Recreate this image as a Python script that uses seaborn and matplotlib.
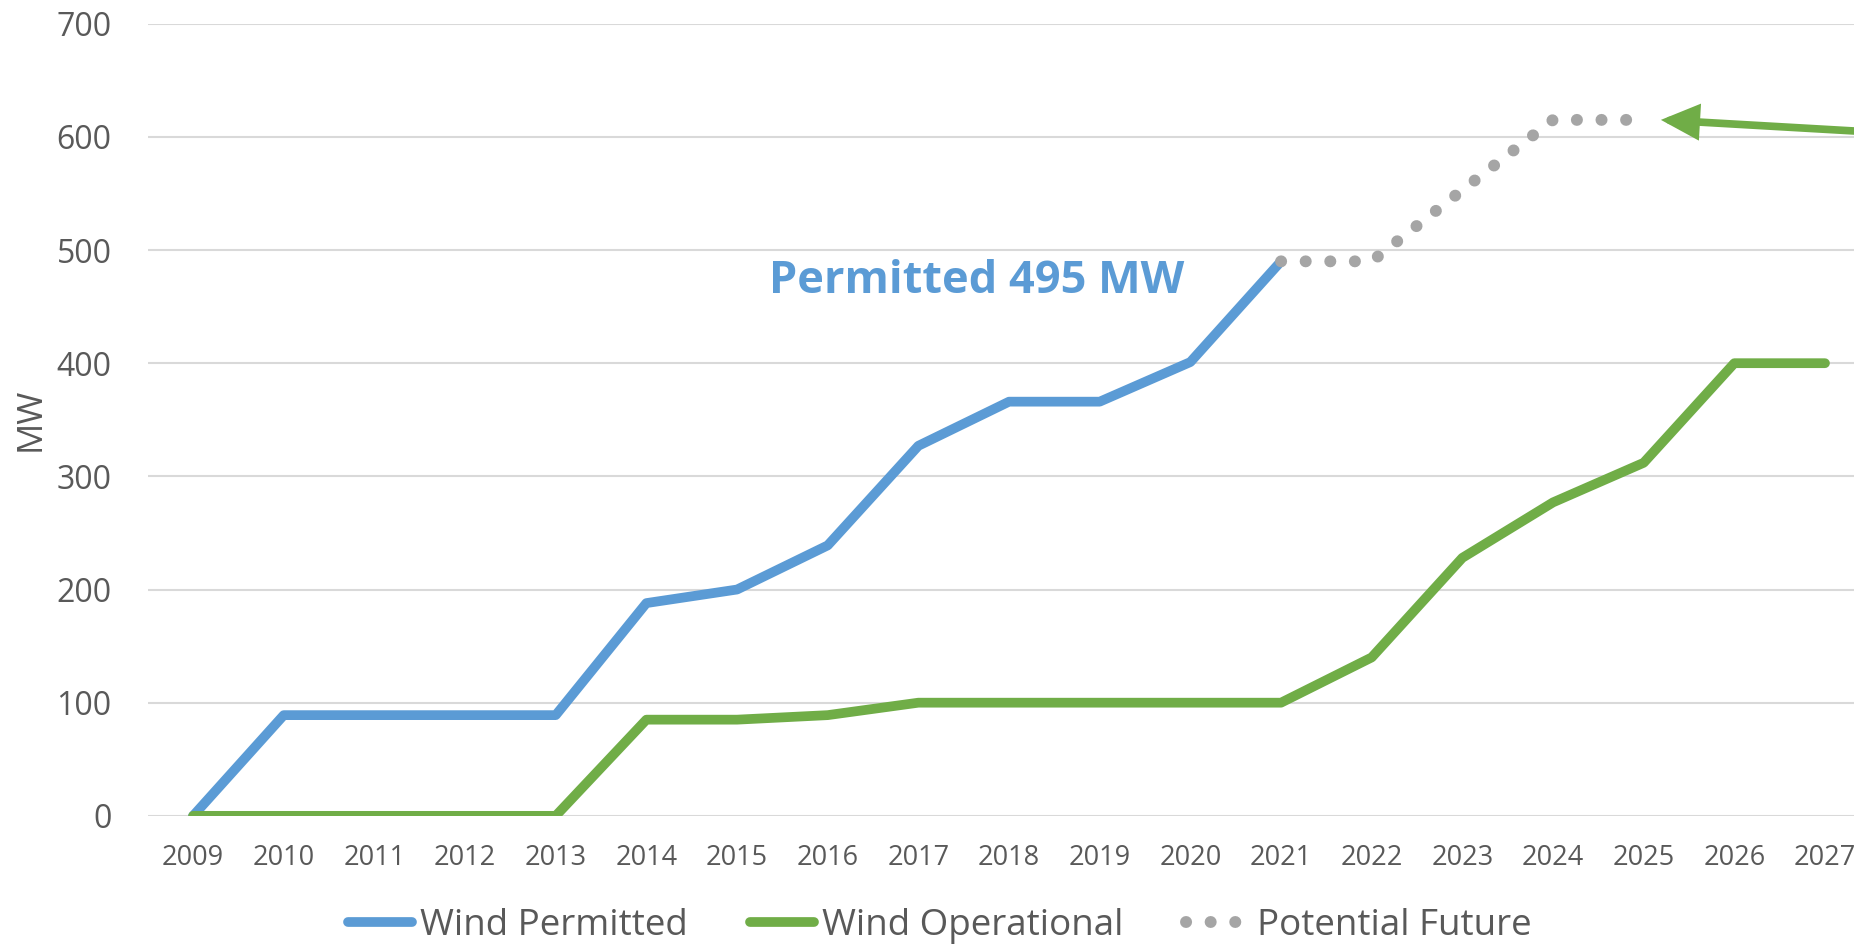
import numpy as np
import pandas as pd
import matplotlib
matplotlib.use('Agg')
import matplotlib.pyplot as plt
import seaborn as sns

# Chart values
years_permitted = [2009, 2010, 2011, 2012, 2013, 2014, 2015, 2016, 2017, 2018, 2019, 2020, 2021]
wind_permitted = [0, 89, 89, 89, 89, 188, 200, 239, 327, 366, 366, 401, 490]

years_operational = list(range(2009, 2028))
wind_operational = [0, 0, 0, 0, 0, 85, 85, 89, 100, 100, 100, 100, 100, 140, 228, 277, 312, 400, 400]

years_future = [2021, 2022, 2023, 2024, 2025]
potential_future = [490, 490, 553, 615, 615]

year_ticks = list(range(2009, 2028))
mw_ticks = [0, 100, 200, 300, 400, 500, 600, 700]

blue = '#5B9BD5'
green = '#70AD47'
grey = '#A5A5A5'
txt = '#595959'

sns.set_theme(style='white')
plt.rcParams['font.family'] = ['Open Sans', 'DejaVu Sans']

fig = plt.figure(figsize=(18.54, 9.48), dpi=100)
ax = fig.add_axes([0.0797, 0.1394, 1 - 0.0797, 0.975 - 0.1394])

sns.lineplot(x=years_permitted, y=wind_permitted, ax=ax, color=blue, lw=7,
             solid_capstyle='round', solid_joinstyle='round', label='Wind Permitted')
sns.lineplot(x=years_operational, y=wind_operational, ax=ax, color=green, lw=7,
             solid_capstyle='round', solid_joinstyle='round', label='Wind Operational')
sns.lineplot(x=years_future, y=potential_future, ax=ax, color=grey, lw=8.6,
             linestyle=(0, (0.01, 2.05)), dash_capstyle='round', label='Potential Future')

# axes / grid
ax.set_xlim(2008.5, 2027.32)
ax.set_ylim(0, 700)
ax.set_xticks(year_ticks)
ax.set_xticklabels([str(y) for y in year_ticks])
ax.set_yticks(mw_ticks)
ax.grid(axis='y', color='#D9D9D9', lw=1.5)
ax.set_axisbelow(True)
for s in ax.spines.values():
    s.set_visible(False)
ax.tick_params(axis='x', length=0, pad=20, labelsize=19.5, colors=txt)
ax.tick_params(axis='y', length=0, pad=26, labelsize=23, colors=txt)
ax.set_xlabel('')
ax.set_ylabel('MW', fontsize=25, color=txt)
ax.yaxis.set_label_coords(-0.0585, 0.5)

# annotations
ax.text(2017.64, 472, 'Permitted 495 MW', color=blue, fontsize=32.5, fontweight='bold',
        ha='center', va='center')
ax.annotate('', xy=(2025.19, 615), xytext=(2027.8, 603), annotation_clip=False,
            arrowprops=dict(arrowstyle='-|>,head_length=0.95,head_width=0.45', mutation_scale=20,
                            color=green, lw=5.5, shrinkA=0, shrinkB=0, joinstyle='miter'))

leg = ax.legend(loc='center', bbox_to_anchor=(0.507, 0.023), bbox_transform=fig.transFigure,
                ncol=3, frameon=False, fontsize=26.5, borderpad=0.1,
                handlelength=1.75, handletextpad=0.2, columnspacing=1.7)
for t in leg.get_texts():
    t.set_color(txt)

fig.savefig('out.png', dpi=100)
